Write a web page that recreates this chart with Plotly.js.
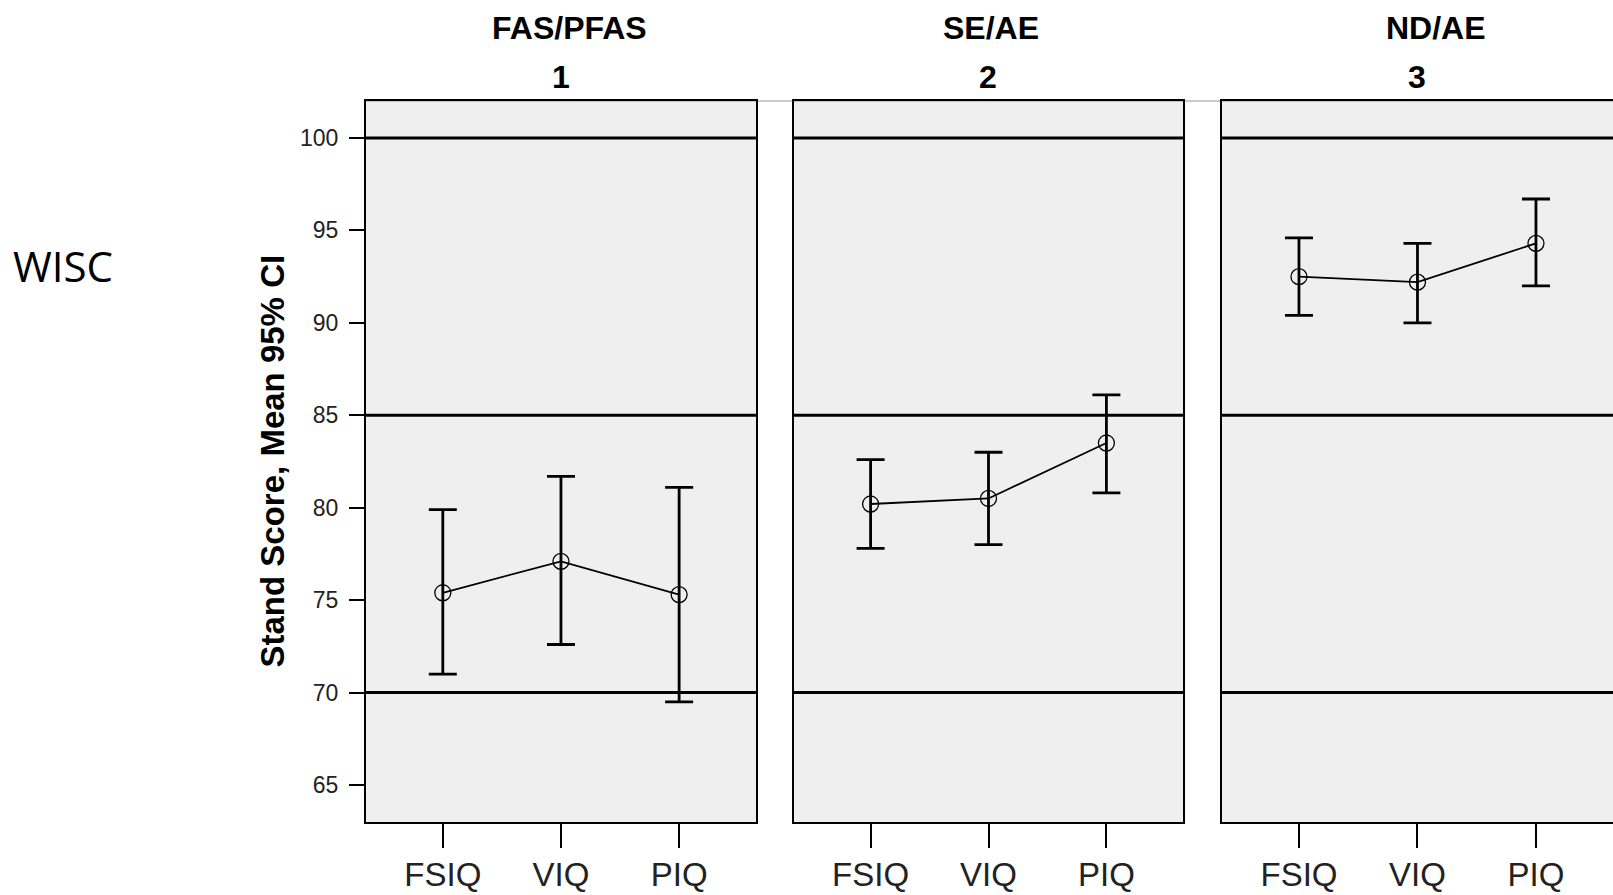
<!DOCTYPE html>
<html>
<head>
<meta charset="utf-8">
<script src="https://cdn.plot.ly/plotly-3.0.1.min.js"></script>
<style>html,body{margin:0;padding:0;background:#fff;}#chart{width:1613px;height:895px;}</style>
</head>
<body>
<div id="chart"></div>
<script>
// ---- data ----
const categories = ["FSIQ", "VIQ", "PIQ"];
const groupNames = ["FAS/PFAS", "SE/AE", "ND/AE"];
const groupNums = ["1", "2", "3"];

const meanFAS = [75.4, 77.1, 75.3];
const upperFAS = [79.9, 81.7, 81.1];
const lowerFAS = [71.0, 72.6, 69.5];

const meanSE = [80.2, 80.5, 83.5];
const upperSE = [82.6, 83.0, 86.1];
const lowerSE = [77.8, 78.0, 80.8];

const meanND = [92.5, 92.2, 94.3];
const upperND = [94.6, 94.3, 96.7];
const lowerND = [90.4, 90.0, 92.0];

const refLines = [70, 85, 100];
const yTicks = [65, 70, 75, 80, 85, 90, 95, 100];
const yTitle = "Stand Score, Mean 95% CI";
const sideLabel = "WISC";

// ---- layout helpers ----
const means = [meanFAS, meanSE, meanND];
const uppers = [upperFAS, upperSE, upperND];
const lowers = [lowerFAS, lowerSE, lowerND];
const domains = [[0, 0.3127], [0.3432, 0.6552], [0.6864, 1.0]];
const titleX = [569, 991, 1436];
const numX = [561, 988, 1417];
const L = 366, PW = 1247, B = 822, PH = 721;
const px = v => (v - L) / PW;
const py = v => (B - v) / PH;

const traces = [];
for (let g = 0; g < 3; g++) {
  const sfx = g === 0 ? "" : String(g + 1);
  traces.push({
    type: "scatter",
    mode: "lines+markers",
    x: categories,
    y: means[g],
    xaxis: "x" + sfx,
    yaxis: "y" + sfx,
    line: {color: "#000", width: 1.8},
    marker: {symbol: "circle-open", size: 16, color: "#000", line: {width: 1.3, color: "#000"}},
    error_y: {
      type: "data",
      symmetric: false,
      array: uppers[g].map((u, i) => u - means[g][i]),
      arrayminus: lowers[g].map((l, i) => means[g][i] - l),
      color: "#000",
      thickness: 2.8,
      width: 14
    },
    showlegend: false,
    hoverinfo: "skip"
  });
}

const layout = {
  width: 1613,
  height: 895,
  margin: {l: L, r: 0, t: 101, b: 895 - B},
  paper_bgcolor: "#ffffff",
  plot_bgcolor: "#efefef",
  font: {family: "Liberation Sans, Arial, sans-serif", color: "#222"},
  showlegend: false,
  shapes: [],
  annotations: []
};

for (let g = 0; g < 3; g++) {
  const sfx = g === 0 ? "" : String(g + 1);
  layout["xaxis" + sfx] = {
    domain: domains[g],
    anchor: "y" + sfx,
    type: "category",
    categoryorder: "array",
    categoryarray: categories,
    range: [-0.65, 2.65],
    showgrid: false,
    zeroline: false,
    showline: true,
    mirror: true,
    linecolor: "#000",
    linewidth: 2,
    ticks: "outside",
    ticklen: 24,
    tickwidth: 2,
    tickcolor: "#000",
    ticklabelstandoff: -2,
    tickfont: {size: 33, color: "#222", family: "Liberation Sans, Arial, sans-serif"},
    fixedrange: true
  };
  layout["yaxis" + sfx] = {
    anchor: "x" + sfx,
    range: [63, 102],
    tickvals: yTicks,
    showgrid: false,
    zeroline: false,
    showline: true,
    mirror: true,
    linecolor: "#000",
    linewidth: 2,
    ticks: g === 0 ? "outside" : "",
    ticklen: 15,
    tickwidth: 2,
    tickcolor: "#000",
    ticklabelstandoff: 6,
    showticklabels: g === 0,
    tickfont: {size: 23, color: "#222", family: "Liberation Sans, Arial, sans-serif"},
    fixedrange: true
  };
  refLines.forEach(v => {
    layout.shapes.push({
      type: "line", xref: "x" + sfx + " domain", yref: "y" + sfx,
      x0: 0, x1: 1, y0: v, y1: v,
      line: {color: "#000", width: 3}, layer: "above"
    });
  });
  layout.annotations.push({
    text: "<b>" + groupNames[g] + "</b>", xref: "paper", yref: "paper",
    x: px(titleX[g]), y: py(28), xanchor: "center", yanchor: "middle",
    showarrow: false, font: {size: 32, color: "#000"}
  });
  layout.annotations.push({
    text: "<b>" + groupNums[g] + "</b>", xref: "paper", yref: "paper",
    x: px(numX[g]), y: py(77), xanchor: "center", yanchor: "middle",
    showarrow: false, font: {size: 32, color: "#000"}
  });
}

layout.shapes.unshift({
  type: "line", xref: "paper", yref: "paper", x0: 0, x1: 1, y0: 1, y1: 1,
  line: {color: "#999", width: 1}, layer: "below"
});

layout.annotations.push({
  text: "<b>" + yTitle + "</b>", xref: "paper", yref: "paper",
  x: px(272), y: 0.5, xanchor: "center", yanchor: "middle", textangle: -90,
  showarrow: false, font: {size: 33, color: "#000"}
});
layout.annotations.push({
  text: sideLabel, xref: "paper", yref: "paper",
  x: px(63), y: py(265), xanchor: "center", yanchor: "middle",
  showarrow: false, font: {size: 42, color: "#000", family: "Open Sans, sans-serif"}
});

Plotly.newPlot("chart", traces, layout, {staticPlot: true, displayModeBar: false});
</script>
</body>
</html>
